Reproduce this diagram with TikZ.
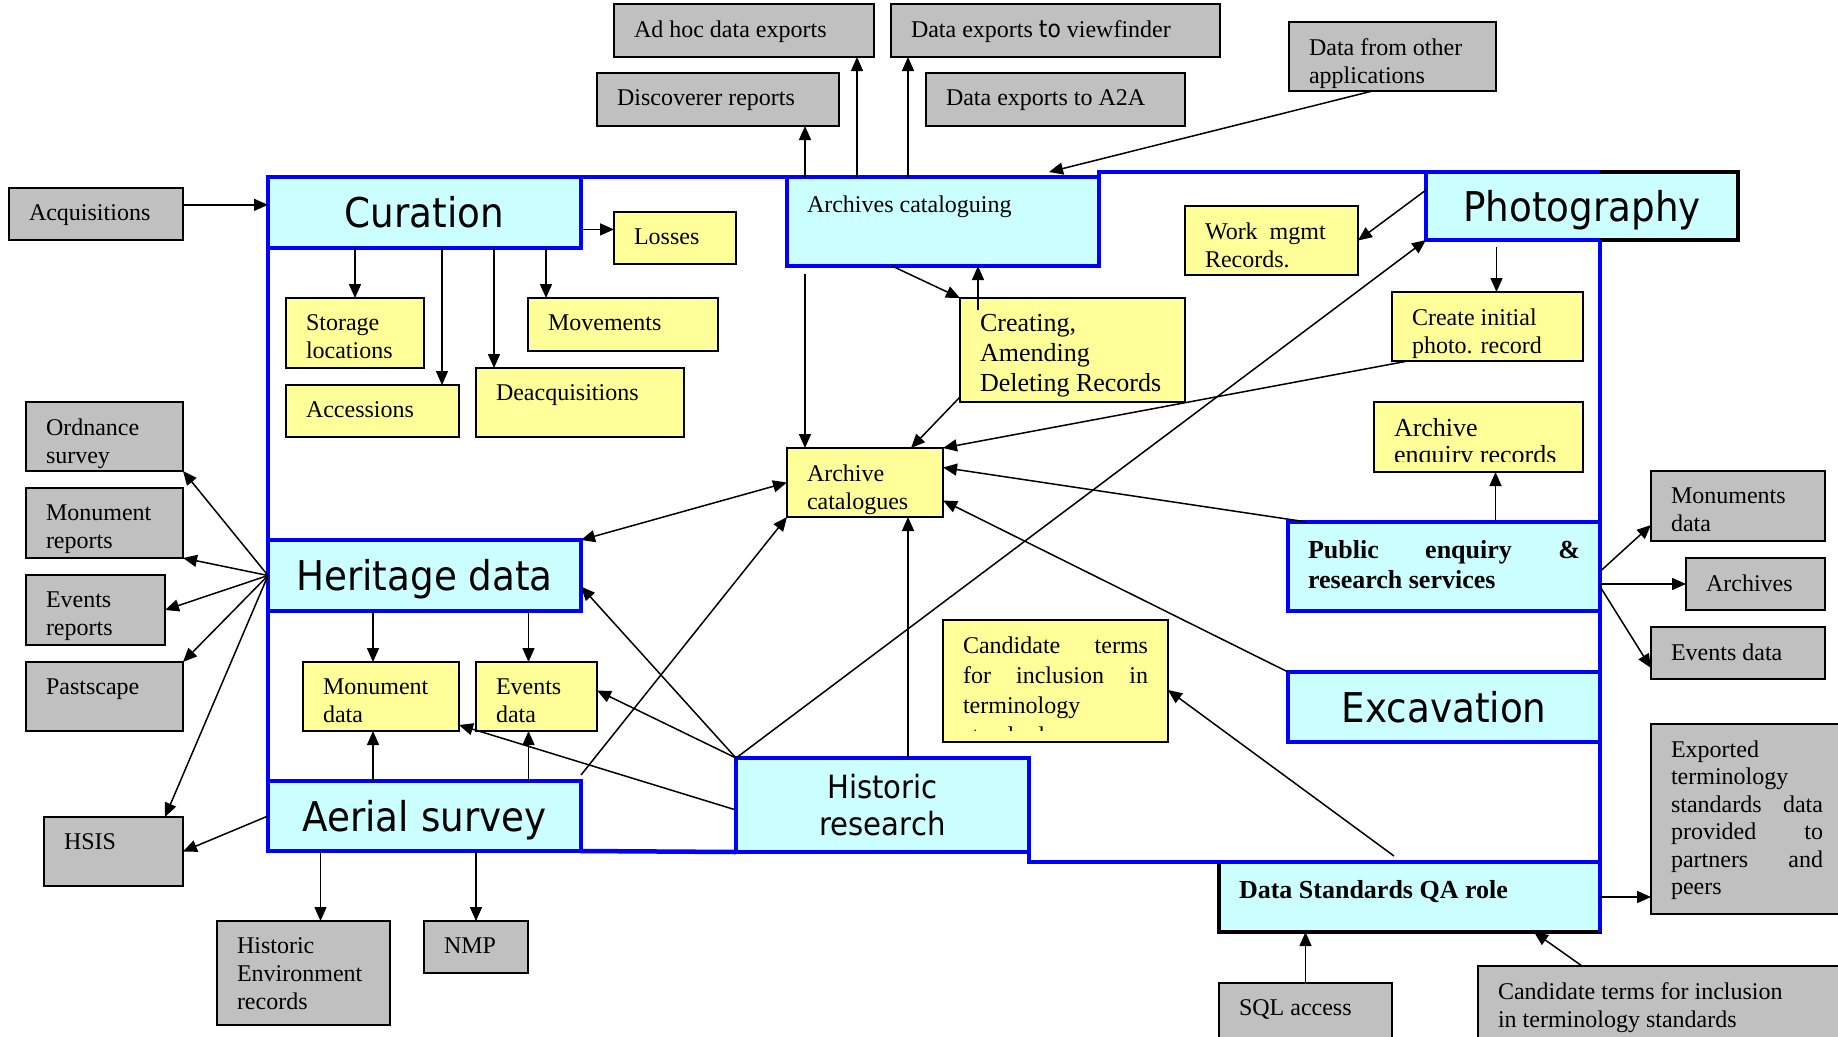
\documentclass[tikz,border=0pt]{standalone}
\usepackage{fontspec}
\setmainfont{Liberation Serif}
\newfontfamily\headfont[FakeStretch=0.91]{DejaVu Sans}
\usetikzlibrary{arrows.meta,calc}
\definecolor{boxgrey}{RGB}{192,192,192}
\definecolor{boxyellow}{RGB}{255,255,153}
\definecolor{boxcyan}{RGB}{204,255,255}
\definecolor{frameblue}{RGB}{0,0,255}
\newcommand{\boxfont}{\fontsize{24}{28}\selectfont}
\newcommand{\bxt}[3]{\parbox[c][\dimexpr#2pt-33pt\relax][t]{\dimexpr#1pt-40pt\relax}{#3}}

\begin{document}
\begin{tikzpicture}[x=1pt,y=-1pt,
  >={Triangle[length=14pt,width=12pt]},
  greybox/.style={draw, fill=boxgrey, line width=2pt, outer sep=0pt, inner xsep=20pt, inner ysep=16.5pt, anchor=north west, font=\boxfont},
  yellowbox/.style={greybox, fill=boxyellow},
  cyanbox/.style={draw=frameblue, fill=boxcyan, line width=4.5pt, outer sep=0pt, anchor=north west},
  cyantext/.style={cyanbox, inner xsep=20pt, inner ysep=16.5pt, font=\boxfont},
  headbox/.style={cyanbox, inner sep=0pt, font=\headfont\fontsize{41}{45}\selectfont, text height=30pt, text depth=0pt},
  bluefrm/.style={draw=frameblue, line width=4.5pt},
  flow/.style={->, line width=1.5pt},
  flowboth/.style={<->, line width=1.5pt}]
  \useasboundingbox[fill=white] (0,0) rectangle (1838,1036);

  \node[greybox] (adhoc) at (614,4) {\bxt{260}{53}{Ad hoc data exports}};
  \node[greybox] (viewf) at (891,4) {\bxt{329}{53}{Data exports {\headfont to} viewfinder}};
  \node[greybox] (disco) at (597,73) {\bxt{242}{53}{Discoverer reports}};
  \node[greybox] (atoa) at (926,73) {\bxt{259}{53}{Data exports to A2A}};
  \node[greybox] (other) at (1289,22) {\bxt{207}{69}{Data from other\\applications}};
  \node[greybox] (acq) at (9,188) {\bxt{174}{52}{Acquisitions}};
  \node[greybox] (ordn) at (26,402) {\bxt{157}{69}{Ordnance\\survey}};
  \node[greybox] (monrep) at (26,488) {\bxt{157}{70}{Monument\\reports}};
  \node[greybox] (evrep) at (26,575) {\bxt{139}{70}{Events\\reports}};
  \node[greybox] (past) at (26,662) {\bxt{157}{69}{Pastscape}};
  \node[greybox] (hsis) at (44,817) {\bxt{139}{69}{HSIS}};
  \node[greybox] (her) at (217,921) {\bxt{173}{104}{Historic\\Environment\\records}};
  \node[greybox] (nmp) at (424,921) {\bxt{104}{52}{NMP}};
  \node[greybox] (mondat) at (1651,471) {\bxt{174}{70}{Monuments\\data}};
  \node[greybox] (arch) at (1686,558) {\bxt{139}{52}{Archives}};
  \node[greybox] (evdat) at (1651,627) {\bxt{174}{52}{Events data}};
  \node[greybox, font=\fontsize{24}{27.5}\selectfont] (expo) at (1651,724) {\bxt{192}{190}{Exported\\terminology\\standards\hfill data\\provided\hfill to\\partners\hfill and\\peers}};
  \node[greybox] (sql) at (1219,983) {\bxt{173}{60}{SQL access}};
  \node[greybox] (candg) at (1478,966) {\bxt{370}{80}{Candidate terms for inclusion\\\ in terminology standards}};

  \node[yellowbox] (loss) at (614,212) {\bxt{122}{52}{Losses}};
  \node[yellowbox] (stor) at (286,298) {\bxt{138}{70}{Storage\\locations}};
  \node[yellowbox] (mov) at (528,298) {\bxt{190}{53}{Movements}};
  \node[yellowbox] (acc) at (286,385) {\bxt{173}{52}{Accessions}};
  \node[yellowbox] (deacq) at (476,368) {\bxt{208}{69}{Deacquisitions}};
  \node[yellowbox, font=\fontsize{26}{30}\selectfont] (creat) at (960,298) {\bxt{225}{104}{Creating,\\Amending\\Deleting Records}};
  \node[yellowbox] (work) at (1185,206) {\bxt{173}{69}{Work\ \ mgmt\\Records.}};
  \node[yellowbox] (photorec) at (1392,292) {\bxt{191}{69}{Create initial\\photo. record}};
  \node[yellowbox] (archcat) at (787,448) {\bxt{156}{69}{Archive\\catalogues}};
  \node[yellowbox] (mondata) at (303,662) {\bxt{156}{69}{Monument\\data}};
  \node[yellowbox] (evdata) at (476,662) {\bxt{121}{69}{Events\\data}};
  \node[yellowbox, inner sep=0pt, minimum width=209pt, minimum height=70pt] (enq) at (1374,402) {};
  \begin{scope}
    \clip (enq.north west) rectangle ($(enq.south east)+(0,-11)$);
    \node[yellowbox, draw=none, fill=none, font=\fontsize{26}{27}\selectfont] (enqtxt) at (enq.north west) {\bxt{209}{70}{Archive\\enquiry records}};
  \end{scope}
  \node[yellowbox, inner sep=0pt, minimum width=225pt, minimum height=122pt] (candy) at (943,620) {};
  \begin{scope}
    \clip (candy.north west) rectangle ($(candy.south east)+(0,-12)$);
    \node[yellowbox, draw=none, fill=none, font=\fontsize{24}{30}\selectfont] (candytxt) at (candy.north west) {\bxt{225}{122}{Candidate\hfill terms\\for\hfill inclusion\hfill in\\terminology\\standards}};
  \end{scope}

  \node[headbox, minimum width=313pt, minimum height=71pt] (cur) at (268,177) {Curation};
  \node[cyantext, inner ysep=19pt] (archcatl) at (787,177) {\bxt{312}{84}{Archives cataloguing}};
  \node[headbox, minimum width=312pt, minimum height=68pt] (photo) at (1426,172) {Photography};
  \node[headbox, minimum width=313pt, minimum height=71pt] (herit) at (268,540) {Heritage data};
  \node[headbox, minimum width=313pt, minimum height=70pt] (aerial) at (268,781) {Aerial survey};
  \node[cyanbox, inner sep=0pt, minimum width=293pt, minimum height=94pt, align=center, font=\headfont\fontsize{32}{37}\selectfont] (hist) at (736,758) {Historic\\research};
  \node[cyantext, inner ysep=18pt, font=\bfseries\fontsize{26}{30}\selectfont] (pub) at (1288,522) {\bxt{312}{86}{Public\hfill enquiry\hfill\&\\research services}};
  \node[headbox, minimum width=312pt, minimum height=70pt] (exc) at (1288,672) {Excavation};
  \node[cyantext, inner ysep=18pt, draw=black, font=\bfseries\fontsize{26}{30}\selectfont] (dsqa) at (1219,862) {\bxt{381}{67}{Data Standards QA role}};

  \draw[line width=4.5pt] (photo.north -| dsqa.east) -- (photo.north east) -- (photo.south east) -- (photo.south -| dsqa.east);
  \draw[bluefrm] (cur.north east) -- (archcatl.north west);
  \draw[bluefrm] (archcatl.north east) -- (archcatl.north east |- photo.north) -- (photo.north west);
  \draw[bluefrm] (photo.south -| dsqa.east) -- (dsqa.south east);
  \draw[bluefrm] (hist.south east) -- (hist.south east |- dsqa.north) -- (dsqa.north east);
  \draw[bluefrm] (aerial.south east) -- (hist.south west);
  \draw[bluefrm] (aerial.south west) -- (cur.north west);

  \draw[flow] (acq.6) -- (acq.6 -| cur.west);
  \draw[flow] (cur.east |- loss.172) -- (loss.172);
  \draw[flow] (cur.south -| stor.north) -- (stor.north);
  \draw[flow] ($(cur.south -| acc.north east)+(-17,0)$) -- ($(acc.north east)+(-17,0)$);
  \draw[flow] ($(cur.south -| deacq.north west)+(18,0)$) -- ($(deacq.north west)+(18,0)$);
  \draw[flow] ($(cur.south -| mov.north west)+(18,0)$) -- ($(mov.north west)+(18,0)$);
  \draw[flow] ($(archcatl.north -| disco.south east)+(-34,0)$) -- ($(disco.south east)+(-34,0)$);
  \draw[flow] ($(archcatl.north -| adhoc.south east)+(-17,0)$) -- ($(adhoc.south east)+(-17,0)$);
  \draw[flow] ($(archcatl.north -| viewf.south west)+(17,0)$) -- ($(viewf.south west)+(17,0)$);
  \draw[flow] ($(other.south)+(-20,0)$) -- ($(archcatl.north east)+(-50,-5)$);
  \draw[flow] ($(archcatl.south -| archcat.north west)+(18,8)$) -- ($(archcat.north west)+(18,0)$);
  \draw[flow] ($(archcatl.south west)+(105,0)$) -- (creat.north west);
  \draw[flow] ($(creat.north west)+(18,12)$) -- ($(archcatl.south -| creat.north west)+(18,0)$);
  \draw[flow] ($(creat.south west)+(0,-5)$) -- ($(archcat.north east)+(-32,0)$);
  \draw[flow] ($(photorec.south west)+(16,0)$) -- (archcat.north east);
  \draw[flow] ($(photo.north west)+(0,18)$) -- (work.east);
  \draw[flow] ($(photo.south -| photorec.north)+(9,7)$) -- ($(photorec.north)+(9,0)$);
  \draw[flow] (hist.north west) -- (photo.south west);
  \draw[flow] ($(pub.north -| enq.south)+(17,0)$) -- ($(enq.south)+(17,0)$);
  \draw[flow] ($(pub.north west)+(19,0)$) -- ($(archcat.east)+(0,-15)$);
  \draw[flow] (exc.north west) -- ($(archcat.east)+(0,18)$);
  \draw[flow] ($(hist.north -| archcat.south east)+(-35,0)$) -- ($(archcat.south east)+(-35,0)$);
  \draw[flow] ($(aerial.north east)+(0,-6)$) -- (archcat.south west);
  \draw[flowboth] (herit.north east) -- (archcat.west);
  \draw[flow] (hist.north west) -- ($(herit.east)+(0,11)$);
  \draw[flow] (hist.north west) -- ($(evdata.east)+(0,-6)$);
  \draw[flow] ($(hist.west)+(0,5)$) -- ($(mondata.south east)+(0,-6)$);
  \draw[flow] ($(herit.south -| mondata.north)+(-8,0)$) -- ($(mondata.north)+(-8,0)$);
  \draw[flow] ($(herit.south -| evdata.north)+(-8,0)$) -- ($(evdata.north)+(-8,0)$);
  \draw[flow] ($(aerial.north -| mondata.south)+(-8,0)$) -- ($(mondata.south)+(-8,0)$);
  \draw[flow] ($(aerial.north -| evdata.south)+(-8,0)$) -- ($(evdata.south)+(-8,0)$);
  \draw[flow] (herit.west) -- (ordn.south east);
  \draw[flow] (herit.west) -- (monrep.south east);
  \draw[flow] (herit.west) -- (evrep.east);
  \draw[flow] (herit.west) -- (past.north east);
  \draw[flow] (herit.west) -- ($(hsis.north east)+(-18,0)$);
  \draw[flow] (aerial.west) -- (hsis.east);
  \draw[flow] ($(aerial.south -| her.north)+(17,0)$) -- ($(her.north)+(17,0)$);
  \draw[flow] (aerial.south -| nmp.north) -- (nmp.north);
  \draw[flow] ($(pub.east)+(0,5)$) -- ($(mondat.west)+(0,19)$);
  \draw[flow] (pub.east |- arch.west) -- (arch.west);
  \draw[flow] ($(pub.east)+(0,20)$) -- ($(evdat.west)+(0,15)$);
  \draw[flow] (dsqa.east) -- (dsqa.east -| expo.west);
  \draw[flow] (sql.north) -- (sql.north |- dsqa.south);
  \draw[flow] ($(candg.north west)+(104,0)$) -- ($(dsqa.south east)+(-66,0)$);
  \draw[flow] ($(dsqa.north west)+(175,-6)$) -- ($(candy.east)+(0,9)$);
\end{tikzpicture}
\end{document}
